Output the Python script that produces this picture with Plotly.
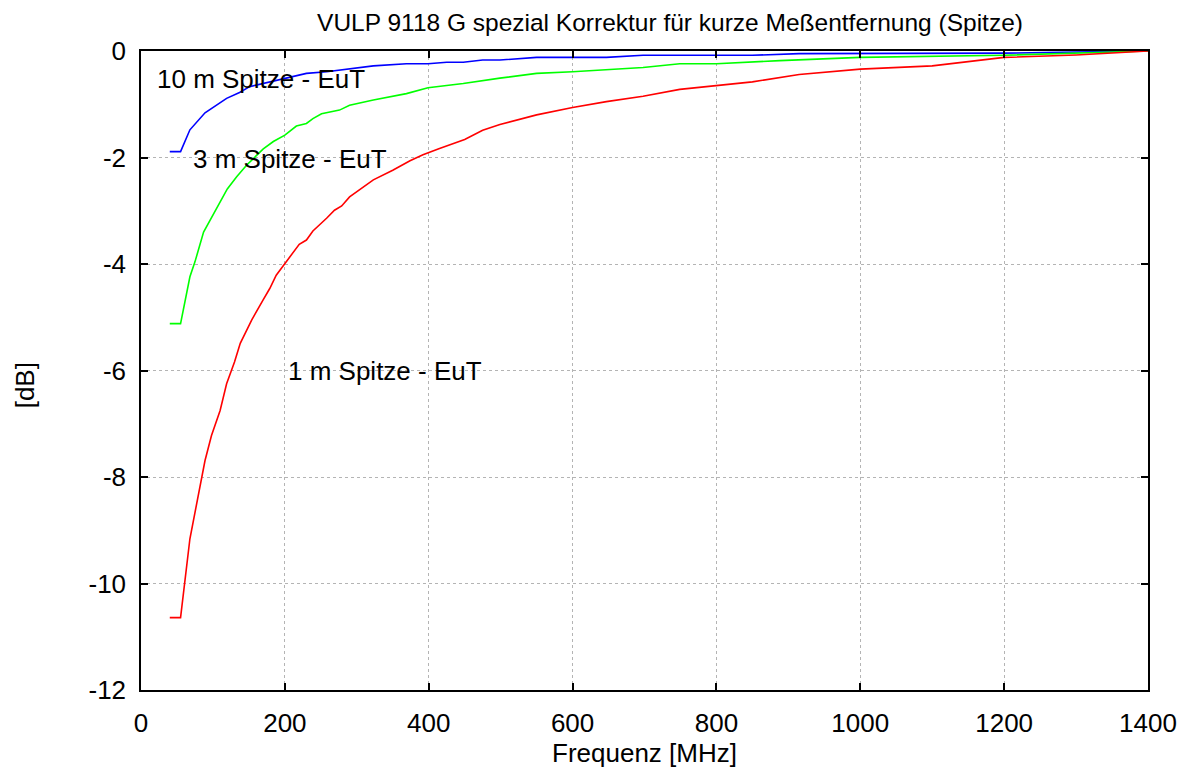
import plotly.graph_objects as go

# 10 m Spitze - EuT (blue)
f10 = [40, 55, 68, 89, 119, 137, 151, 184, 230, 258, 295, 323, 369, 399, 425, 448, 475, 499, 550, 647, 698, 800, 850, 915, 1000, 1100, 1200, 1300, 1400]
v10 = [-1.89, -1.89, -1.48, -1.16, -0.89, -0.78, -0.67, -0.56, -0.42, -0.39, -0.33, -0.28, -0.24, -0.24, -0.21, -0.21, -0.17, -0.17, -0.12, -0.12, -0.08, -0.08, -0.08, -0.05, -0.05, -0.05, -0.04, -0.02, 0]

# 3 m Spitze - EuT (green)
f3 = [40, 55, 68, 75, 87, 96, 105, 120, 133, 147, 170, 184, 200, 216, 230, 239, 251, 276, 290, 323, 369, 399, 448, 475, 499, 550, 600, 698, 749, 800, 888, 1000, 1200, 1400]
v3 = [-5.12, -5.12, -4.24, -3.96, -3.40, -3.18, -2.96, -2.59, -2.36, -2.14, -1.84, -1.70, -1.58, -1.41, -1.36, -1.27, -1.18, -1.11, -1.02, -0.92, -0.80, -0.69, -0.61, -0.55, -0.51, -0.42, -0.39, -0.31, -0.24, -0.24, -0.18, -0.12, -0.08, 0]

# 1 m Spitze - EuT (red)
f1 = [40, 55, 68, 84, 89, 98, 110, 119, 130, 138, 154, 170, 179, 188, 200, 211, 220, 230, 239, 258, 269, 279, 290, 323, 350, 374, 392, 415, 450, 475, 499, 550, 600, 647, 698, 749, 800, 850, 915, 1000, 1100, 1200, 1300, 1400]
v1 = [-10.64, -10.64, -9.16, -8.0, -7.69, -7.22, -6.75, -6.25, -5.84, -5.49, -5.05, -4.67, -4.46, -4.21, -3.99, -3.80, -3.63, -3.55, -3.38, -3.14, -2.99, -2.91, -2.74, -2.42, -2.24, -2.06, -1.95, -1.83, -1.66, -1.49, -1.38, -1.20, -1.06, -0.95, -0.85, -0.72, -0.65, -0.58, -0.44, -0.34, -0.28, -0.12, -0.075, 0]

labels = ["10 m Spitze - EuT", "3 m Spitze - EuT", "1 m Spitze - EuT"]
label_x = [20, 69, 201]
label_y = [-0.53, -2.03, -6.0]

xticks = [0, 200, 400, 600, 800, 1000, 1200, 1400]
yticks = [0, -2, -4, -6, -8, -10, -12]
yticklabels = ["0", "-2", "-4", "-6", "-8", "-10", "-12"]

title = "VULP 9118 G spezial Korrektur für kurze Meßentfernung (Spitze)"
xtitle = "Frequenz [MHz]"
ytitle = "[dB]"

FONT = "Liberation Sans, Arial, sans-serif"
FS = 26

fig = go.Figure()
for f, v, c in [(f10, v10, "#0000ff"), (f3, v3, "#00ff00"), (f1, v1, "#ff0000")]:
    fig.add_trace(go.Scatter(x=f, y=v, mode="lines", line=dict(color=c, width=1.6),
                             showlegend=False, hoverinfo="x+y"))

for t, x, y in zip(labels, label_x, label_y):
    fig.add_annotation(x=x, y=y, text=t, showarrow=False, xanchor="left", yanchor="middle",
                       font=dict(size=FS, color="black", family=FONT))

axis_common = dict(showline=True, linecolor="black", linewidth=1.5, mirror="ticks",
                   ticks="inside", ticklen=7, tickcolor="black", tickwidth=1.5,
                   showgrid=True, gridcolor="#b4b4b4", griddash="dot", gridwidth=1,
                   zeroline=False, tickfont=dict(size=FS, color="black", family=FONT))

fig.update_xaxes(range=[0, 1400], tickvals=xticks, ticklabelstandoff=9, **axis_common,
                 title=dict(text=xtitle, font=dict(size=FS, color="black", family=FONT), standoff=0))
fig.update_yaxes(range=[-12, 0], tickvals=yticks, ticktext=yticklabels, ticklabelstandoff=8, **axis_common)

# y axis title placed like the original (slightly below the plot centre)
fig.add_annotation(xref="paper", yref="paper", x=(25 - 141) / 1010, y=(690 - 385) / 639,
                   text=ytitle, textangle=-90, showarrow=False, xanchor="center", yanchor="middle",
                   font=dict(size=FS, color="black", family=FONT))

fig.update_layout(
    width=1189, height=769,
    paper_bgcolor="white", plot_bgcolor="white",
    margin=dict(l=141, r=38, t=51, b=79),
    title=dict(text=title, x=670 / 1189, xref="container", xanchor="center",
               y=1 - 22 / 769, yanchor="middle",
               font=dict(size=24.5, color="black", family=FONT)),
    font=dict(family=FONT, color="black"),
)

fig.write_html("out.html", config={"displayModeBar": False},
               post_script="document.body.style.margin='0';document.body.style.overflow='hidden';")
